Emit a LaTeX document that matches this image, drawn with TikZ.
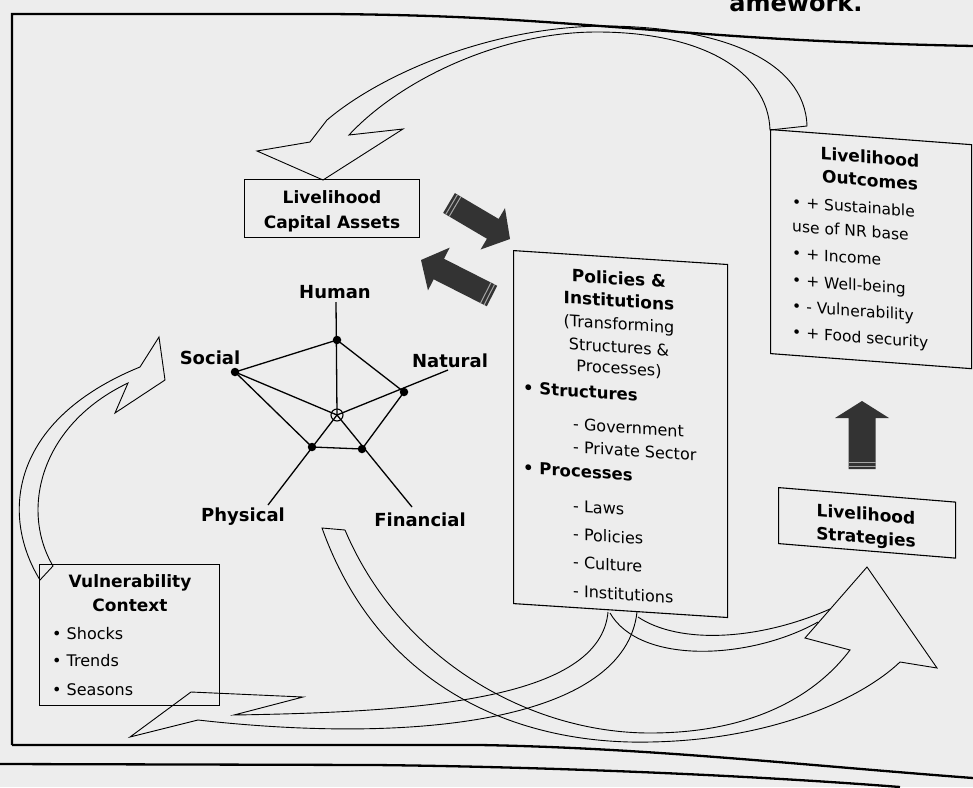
\documentclass[tikz,border=0pt]{standalone}
\usepackage{fontspec}
\setmainfont{DejaVu Sans}
\usetikzlibrary{calc}
\newcommand{\blockarrow}[5]{%
  \coordinate (ba-b) at ($(#2)!#5!(#1)$);
  \fill[arrowfill] ($(#1)!#3!90:(#2)$) -- ($(ba-b)!#3!90:(#2)$) -- ($(ba-b)!#4!90:(#2)$) -- (#2)
     -- ($(ba-b)!#4!-90:(#2)$) -- ($(ba-b)!#3!-90:(#2)$) -- ($(#1)!#3!-90:(#2)$) -- cycle;
  \coordinate (ba-s1) at ($(#1)!3pt!(#2)$);
  \coordinate (ba-s2) at ($(#1)!7pt!(#2)$);
  \draw[stripe] ($(ba-s1)!#3!90:(#2)$) -- ($(ba-s1)!#3!-90:(#2)$);
  \draw[stripe] ($(ba-s2)!#3!90:(#2)$) -- ($(ba-s2)!#3!-90:(#2)$);
}
\begin{document}
\begin{tikzpicture}[x=1pt,y=-1pt,
  box/.style={draw, line width=1.1pt, inner sep=0pt},
  blbl/.style={font=\bfseries\fontsize{17}{20}\selectfont, inner sep=0pt, anchor=base},
  plbl/.style={font=\bfseries\fontsize{18}{20}\selectfont, inner sep=0pt, anchor=base},
  rtxt/.style={font=\fontsize{16}{19}\selectfont, inner sep=0pt, anchor=base west},
  otxt/.style={font=\fontsize{15.5}{18}\selectfont, inner sep=0pt, anchor=base west},
  ctxt/.style={font=\fontsize{16}{19}\selectfont, inner sep=0pt, anchor=base},
  bwtxt/.style={font=\bfseries\fontsize{16.5}{19}\selectfont, inner sep=0pt, anchor=base west},
  band/.style={draw, line width=0.9pt, line join=miter},
  frame/.style={line width=2.3pt},
  dot/.style={circle, fill, inner sep=0pt, minimum size=8.5pt},
  spoke/.style={line width=1.3pt},
  arrowfill/.style={fill=black!80},
  stripe/.style={draw=black!35, line width=1pt},
]
\useasboundingbox (0,0) rectangle (973,787);
\fill[black!7] (0,0) rectangle (973,787);

% title fragment
\node[font=\bfseries\fontsize{24}{26}\selectfont, inner sep=0pt, anchor=base] (title) at (796,11) {amework.};

% outer frame
\draw[frame] (12,745) -- (12,14) -- (330,14) .. controls (450,15) and (520,20) .. (600,26) .. controls (700,33) and (780,42) .. (973,46);
\draw[frame] (12,745) -- (480,745) .. controls (650,748) and (800,765) .. (973,778);
\draw[frame] (0,764) -- (375,765) .. controls (560,767) and (760,776) .. (900,787);

% capital assets box
\node[box, minimum width=175pt, minimum height=58pt, anchor=north west] (cbox) at (244,179) {};
\node[blbl] (c1) at (332,203) {Livelihood};
\node[blbl] (c2) at (332,228) {Capital Assets};

% pentagon
\coordinate (pc) at (337,415);
\coordinate (ph) at (337,340);
\coordinate (pso) at (235,372);
\coordinate (pna) at (404,392);
\coordinate (pph) at (312,447);
\coordinate (pfi) at (362,449);
\coordinate (phtop) at (336,302);
\coordinate (pnaend) at (448,370);
\coordinate (pphend) at (268,505);
\coordinate (pfiend) at (412,507);
\draw[spoke] (phtop) -- (pc);
\draw[spoke] (ph) -- (pso) -- (pph) -- (pfi) -- (pna) -- (ph);
\draw[spoke] (pso) -- (pc);
\draw[spoke] (pnaend) -- (pc);
\draw[spoke] (pphend) -- (pc);
\draw[spoke] (pfiend) -- (pc);
\foreach \p in {ph,pso,pna,pph,pfi} \node[dot] at (\p) {};
\draw[line width=1.1pt] (pc) circle (6pt);
\node[plbl] (lhu) at (335,298) {Human};
\node[plbl] (lso) at (210,364) {Social};
\node[plbl] (lna) at (450,367) {Natural};
\node[plbl] (lph) at (243,521) {Physical};
\node[plbl] (lfi) at (420,526) {Financial};

% dark arrows
\coordinate (t1) at (449,203); \coordinate (p1) at (510,239);
\blockarrow{t1}{p1}{11.5pt}{24pt}{20pt}
\coordinate (t2) at (492,296); \coordinate (p2) at (421,260);
\blockarrow{t2}{p2}{11.5pt}{24pt}{20pt}
\coordinate (t3) at (862,469); \coordinate (p3) at (862,401);
\blockarrow{t3}{p3}{13.5pt}{27pt}{17pt}

% outcomes box
\begin{scope}[shift={(770,129)}, yslant=-0.075, transform shape]
\node[box, minimum width=201pt, minimum height=224pt, anchor=north west] (obox) at (0,0) {};
\node[blbl] (o1) at (100,27) {Livelihood};
\node[blbl] (o2) at (100,50) {Outcomes};
\node[otxt] (o3) at (22,77) {• + Sustainable};
\node[otxt] (o4) at (22,101) {use of NR base};
\node[otxt] (o5) at (22,128) {• + Income};
\node[otxt] (o6) at (22,155) {• + Well-being};
\node[otxt] (o7) at (22,181) {• - Vulnerability};
\node[otxt] (o8) at (22,207) {• + Food security};
\end{scope}

% policies box
\begin{scope}[shift={(513,250)}, yslant=-0.065, transform shape]
\node[box, minimum width=214pt, minimum height=353pt, anchor=north west] (pbox) at (0,0) {};
\node[blbl] (q1) at (106,28) {Policies \&};
\node[blbl] (q2) at (106,50) {Institutions};
\node[ctxt] (q3) at (106,73) {(Transforming};
\node[ctxt] (q4) at (106,96) {Structures \&};
\node[ctxt] (q5) at (106,117) {Processes)};
\node[bwtxt] (q6) at (10,143) {• Structures};
\node[rtxt] (q7) at (60,176) {- Government};
\node[rtxt] (q8) at (60,199) {- Private Sector};
\node[bwtxt] (q9) at (10,223) {• Processes};
\node[rtxt] (q10) at (60,258) {- Laws};
\node[rtxt] (q11) at (60,286) {- Policies};
\node[rtxt] (q12) at (60,314) {- Culture};
\node[rtxt] (q13) at (60,343) {- Institutions};
\end{scope}

% strategies box
\begin{scope}[shift={(778,487)}, yslant=-0.082, transform shape]
\node[box, minimum width=177pt, minimum height=56pt, anchor=north west] (sbox) at (0,0) {};
\node[blbl] (s1) at (88,26) {Livelihood};
\node[blbl] (s2) at (88,49) {Strategies};
\end{scope}

% vulnerability box
\node[box, minimum width=180pt, minimum height=141pt, anchor=north west] (vbox) at (39,564) {};
\node[blbl] (v1) at (130,587) {Vulnerability};
\node[blbl] (v2) at (130,611) {Context};
\node[rtxt] (v3) at (52,639) {• Shocks};
\node[rtxt] (v4) at (52,666) {• Trends};
\node[rtxt] (v5) at (52,695) {• Seasons};

% top curved arrow: outcomes -> capital assets
\draw[band] (807,126) .. controls (805,60) and (720,27) .. (607,26) .. controls (490,26) and (380,75) .. (327,120)
  -- (310,142) -- (257,151) -- (323,180) -- (403,129) -- (349,135)
  .. controls (400,80) and (500,32) .. (597,32) .. controls (700,32) and (768,70) .. (770,130) -- cycle;

% left curved arrow: vulnerability -> assets
\draw[band] (40,580) .. controls (0,515) and (10,420) .. (140,367) -- (159,337) -- (165,380) -- (115,413) -- (128,383)
  .. controls (40,425) and (20,510) .. (53,566) -- cycle;

% band L: policies -> vulnerability
\draw[band] (608,612) .. controls (600,700) and (420,712) .. (234,715) -- (303,697) -- (191,692) -- (130,737) -- (198,720)
  .. controls (420,745) and (625,720) .. (637,612);

% band R1: assets -> strategies
\draw[band] (345,530) -- (322,528) .. controls (380,690) and (520,745) .. (650,742) .. controls (770,740) and (860,700) .. (900,662)
  -- (937,668) -- (867,567) -- (805,638) -- (850,650) .. controls (820,690) and (760,733) .. (650,733) .. controls (530,733) and (400,660) .. (345,530);

% band R2: policies -> strategies
\draw[band] (610,613) .. controls (640,665) and (750,660) .. (818,622);
\draw[band] (638,617) .. controls (680,645) and (760,640) .. (830,609);
\end{tikzpicture}
\end{document}
